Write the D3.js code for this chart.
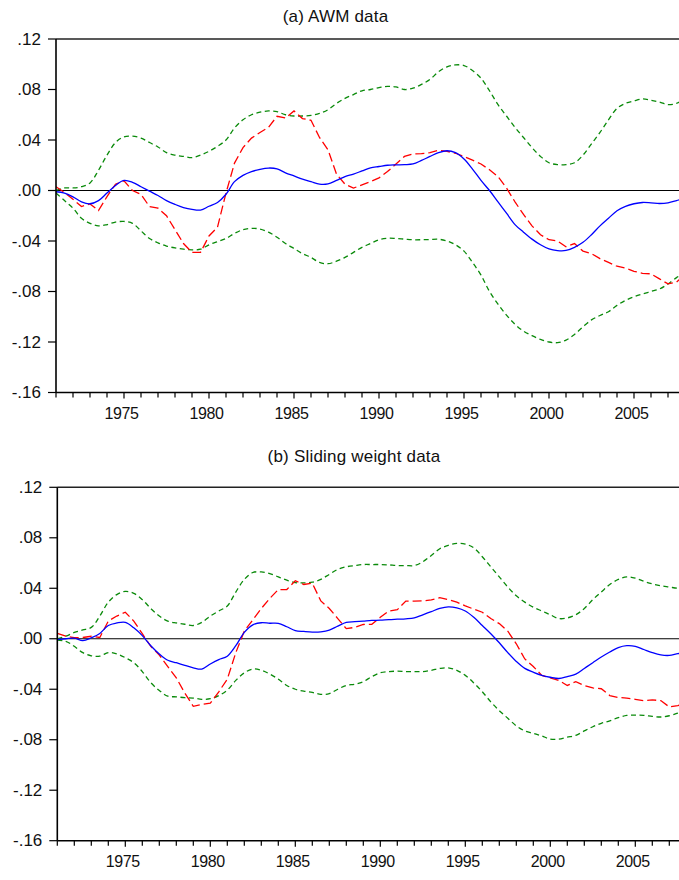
<!DOCTYPE html>
<html>
<head>
<meta charset="utf-8">
<script src="https://cdn.jsdelivr.net/npm/d3@7"></script>
<style>
    html, body { margin: 0; padding: 0; background: #fff; }
    svg { display: block; }
    text { font-family: Arial, "Liberation Sans", sans-serif; fill: #111; }
</style>
</head>
<body>
<script>
(function () {
    "use strict";

    // semi-annual observation dates, last one is 2007Q4
    var dates = d3.range(1971, 2007.6, 0.5).concat([2007.75]);

    var yearTicks = d3.range(1971, 2008);
    var yearLabels = [1975, 1980, 1985, 1990, 1995, 2000, 2005];
    var yTicks = [0.12, 0.08, 0.04, 0, -0.04, -0.08, -0.12, -0.16];
    var yTickLabels = [".12", ".08", ".04", ".00", "-.04", "-.08", "-.12", "-.16"];

    // (a) AWM data
    var awmUpper = [
        0.000, 0.002, 0.002, 0.003, 0.006, 0.016, 0.028, 0.038, 0.0425, 0.043,
        0.0415, 0.038, 0.0345, 0.030, 0.028, 0.027, 0.026, 0.028, 0.031, 0.035,
        0.040, 0.0495, 0.056, 0.060, 0.062, 0.063, 0.0625, 0.060, 0.059, 0.059,
        0.0595, 0.061, 0.064, 0.069, 0.073, 0.076, 0.079, 0.080, 0.0815, 0.0825,
        0.082, 0.080, 0.081, 0.084, 0.088, 0.094, 0.098, 0.0995, 0.099, 0.095,
        0.089, 0.079, 0.068, 0.059, 0.050, 0.042, 0.034, 0.027, 0.022, 0.0205,
        0.0205, 0.022, 0.028, 0.037, 0.046, 0.056, 0.065, 0.069, 0.071, 0.0725,
        0.0715, 0.070, 0.068, 0.069, 0.0707
    ];
    var awmLower = [
        -0.002, -0.008, -0.014, -0.022, -0.026, -0.028, -0.027, -0.025, -0.0245, -0.026,
        -0.032, -0.038, -0.0415, -0.044, -0.0455, -0.0465, -0.047, -0.0465, -0.043, -0.0405,
        -0.038, -0.034, -0.031, -0.030, -0.0305, -0.033, -0.037, -0.042, -0.046, -0.050,
        -0.053, -0.057, -0.058, -0.056, -0.053, -0.049, -0.045, -0.042, -0.039, -0.0378,
        -0.038, -0.0385, -0.039, -0.039, -0.0388, -0.0386, -0.040, -0.043, -0.048, -0.057,
        -0.067, -0.080, -0.090, -0.0987, -0.106, -0.1114, -0.115, -0.118, -0.120, -0.1205,
        -0.1185, -0.114, -0.108, -0.1025, -0.099, -0.096, -0.091, -0.087, -0.0842, -0.082,
        -0.080, -0.078, -0.074, -0.069, -0.067
    ];
    var awmMedian = [
        -0.001, -0.002, -0.005, -0.009, -0.0105, -0.008, -0.002, 0.004, 0.008, 0.0065,
        0.003, -0.0005, -0.004, -0.008, -0.011, -0.0135, -0.015, -0.0155, -0.0125, -0.0095,
        -0.003, 0.007, 0.012, 0.015, 0.0168, 0.0178, 0.0172, 0.014, 0.0115, 0.009,
        0.007, 0.005, 0.0052, 0.008, 0.011, 0.013, 0.0155, 0.018, 0.019, 0.020,
        0.0203, 0.0205, 0.021, 0.0238, 0.027, 0.030, 0.0315, 0.030, 0.025, 0.017,
        0.008, 0.000, -0.009, -0.018, -0.027, -0.033, -0.0385, -0.043, -0.0463, -0.0476,
        -0.0475, -0.045, -0.041, -0.035, -0.028, -0.022, -0.016, -0.0125, -0.0105, -0.0095,
        -0.0098, -0.0103, -0.0098, -0.008, -0.007
    ];
    var awmActual = [
        0.003, -0.0016, -0.007, -0.0127, -0.0106, -0.0159, -0.0048, 0.005, 0.0077, 0.000,
        -0.003, -0.0128, -0.014, -0.020, -0.031, -0.042, -0.049, -0.049, -0.036, -0.029,
        -0.002, 0.0217, 0.034, 0.0415, 0.046, 0.050, 0.0588, 0.0574, 0.063, 0.057,
        0.0556, 0.042, 0.0323, 0.013, 0.005, 0.0019, 0.0045, 0.0071, 0.010, 0.015,
        0.021, 0.027, 0.029, 0.0292, 0.030, 0.0318, 0.031, 0.0295, 0.027, 0.024,
        0.021, 0.0164, 0.011, 0.002, -0.009, -0.019, -0.028, -0.035, -0.039, -0.040,
        -0.0445, -0.042, -0.048, -0.050, -0.054, -0.057, -0.060, -0.0615, -0.064, -0.0656,
        -0.066, -0.070, -0.074, -0.0725, -0.0696
    ];

    // (b) Sliding weight data
    var swUpper = [
        0.000, 0.002, 0.005, 0.007, 0.009, 0.018, 0.029, 0.035, 0.0375, 0.036,
        0.031, 0.024, 0.018, 0.014, 0.0125, 0.0115, 0.0105, 0.013, 0.018, 0.022,
        0.026, 0.037, 0.047, 0.0525, 0.053, 0.0517, 0.049, 0.0464, 0.0445, 0.0443,
        0.0448, 0.047, 0.051, 0.055, 0.057, 0.058, 0.0588, 0.0588, 0.0588, 0.0585,
        0.058, 0.058, 0.058, 0.061, 0.066, 0.0713, 0.074, 0.0755, 0.075, 0.072,
        0.065, 0.057, 0.049, 0.041, 0.034, 0.029, 0.025, 0.022, 0.019, 0.016,
        0.0165, 0.019, 0.024, 0.031, 0.037, 0.043, 0.047, 0.049, 0.048, 0.0455,
        0.0435, 0.042, 0.041, 0.040, 0.040
    ];
    var swLower = [
        -0.001, -0.002, -0.006, -0.011, -0.0135, -0.0138, -0.011, -0.012, -0.015, -0.019,
        -0.026, -0.0348, -0.041, -0.0455, -0.046, -0.0467, -0.047, -0.048, -0.0475, -0.045,
        -0.0407, -0.033, -0.027, -0.024, -0.025, -0.028, -0.032, -0.037, -0.040, -0.0415,
        -0.0425, -0.044, -0.0435, -0.040, -0.037, -0.036, -0.034, -0.030, -0.027, -0.026,
        -0.0257, -0.026, -0.026, -0.026, -0.025, -0.0235, -0.023, -0.025, -0.029, -0.035,
        -0.042, -0.050, -0.057, -0.063, -0.069, -0.073, -0.075, -0.077, -0.0795, -0.0795,
        -0.078, -0.0765, -0.073, -0.0697, -0.067, -0.065, -0.0625, -0.0607, -0.0605, -0.0607,
        -0.0615, -0.062, -0.061, -0.059, -0.058
    ];
    var swMedian = [
        -0.0006, 0.000, 0.0005, -0.0015, 0.0008, 0.0042, 0.0105, 0.0125, 0.013, 0.0087,
        0.0025, -0.0055, -0.012, -0.017, -0.019, -0.021, -0.023, -0.024, -0.020, -0.0165,
        -0.0138, -0.0055, 0.005, 0.011, 0.0127, 0.0123, 0.0122, 0.0095, 0.0065, 0.0058,
        0.0053, 0.0055, 0.0068, 0.010, 0.013, 0.0135, 0.014, 0.0145, 0.0147, 0.0152,
        0.0155, 0.0158, 0.0165, 0.019, 0.0215, 0.024, 0.0253, 0.0245, 0.022, 0.017,
        0.0105, 0.004, -0.0032, -0.011, -0.018, -0.0235, -0.0265, -0.029, -0.0305, -0.0315,
        -0.030, -0.028, -0.0235, -0.019, -0.0145, -0.0105, -0.007, -0.0055, -0.006, -0.0085,
        -0.011, -0.0128, -0.0132, -0.0118, -0.0115
    ];
    var swActual = [
        0.0042, 0.002, 0.0008, 0.001, 0.002, 0.001, 0.014, 0.018, 0.021, 0.014,
        0.004, -0.006, -0.013, -0.022, -0.031, -0.043, -0.0535, -0.052, -0.051, -0.042,
        -0.032, -0.011, 0.006, 0.015, 0.024, 0.032, 0.039, 0.039, 0.046, 0.043,
        0.044, 0.030, 0.024, 0.016, 0.008, 0.009, 0.0113, 0.0115, 0.017, 0.022,
        0.023, 0.0298, 0.0298, 0.030, 0.0308, 0.0325, 0.031, 0.029, 0.026, 0.0235,
        0.021, 0.016, 0.012, 0.006, -0.004, -0.016, -0.022, -0.029, -0.031, -0.033,
        -0.037, -0.034, -0.037, -0.039, -0.0396, -0.045, -0.0465, -0.047, -0.048, -0.049,
        -0.0485, -0.049, -0.054, -0.053, -0.052
    ];

    var width = 679, height = 880;
    var pxPerYear = 17;

    var panels = [
        {id: "a", title: "(a) AWM data", titleX: 335.5, titleY: 22,
            left: 56, top: 39, bottom: 392.5,
            upper: awmUpper, lower: awmLower, median: awmMedian, actual: awmActual},
        {id: "b", title: "(b) Sliding weight data", titleX: 354, titleY: 461.5,
            left: 57.3, top: 487.3, bottom: 840.7,
            upper: swUpper, lower: swLower, median: swMedian, actual: swActual}
    ];

    var svg = d3.select("body")
            .append("svg")
            .attr("width", width)
            .attr("height", height);

    var defs = svg.append("defs");

    panels.forEach(function (p) {
        var right = p.left + (dates[dates.length - 1] - dates[0]) * pxPerYear;

        var x = d3.scaleLinear()
                .domain([dates[0], dates[dates.length - 1]])
                .range([p.left, right]);
        var y = d3.scaleLinear()
                .domain([-0.16, 0.12])
                .range([p.bottom, p.top]);

        defs.append("clipPath")
                .attr("id", "clip-" + p.id)
                .append("rect")
                .attr("x", p.left)
                .attr("y", p.top)
                .attr("width", right - p.left)
                .attr("height", p.bottom - p.top);

        var g = svg.append("g");

        // title
        g.append("text")
                .attr("x", p.titleX)
                .attr("y", p.titleY)
                .attr("text-anchor", "middle")
                .style("font-size", "17px")
                .style("letter-spacing", "0.2px")
                .text(p.title);

        // zero line
        g.append("line")
                .attr("x1", p.left).attr("x2", right)
                .attr("y1", y(0)).attr("y2", y(0))
                .attr("stroke", "#000")
                .attr("stroke-width", 1.2);

        var plotArea = g.append("g")
                .attr("clip-path", "url(#clip-" + p.id + ")");

        var smooth = d3.line()
                .x(function (d, i) { return x(dates[i]); })
                .y(function (d) { return y(d); })
                .curve(d3.curveCatmullRom.alpha(0.5));
        var rough = d3.line()
                .x(function (d, i) { return x(dates[i]); })
                .y(function (d) { return y(d); });

        [p.upper, p.lower].forEach(function (band) {
            plotArea.append("path")
                    .datum(band)
                    .attr("d", smooth)
                    .attr("fill", "none")
                    .attr("stroke", "#0a8a0a")
                    .attr("stroke-width", 1.3)
                    .attr("stroke-dasharray", "5,3.5");
        });

        plotArea.append("path")
                .datum(p.actual)
                .attr("d", rough)
                .attr("fill", "none")
                .attr("stroke", "#ff0000")
                .attr("stroke-width", 1.3)
                .attr("stroke-dasharray", "9,4");

        plotArea.append("path")
                .datum(p.median)
                .attr("d", smooth)
                .attr("fill", "none")
                .attr("stroke", "#0000ff")
                .attr("stroke-width", 1.3);

        // frame: top, left, bottom
        g.append("line")
                .attr("x1", p.left).attr("x2", right)
                .attr("y1", p.top).attr("y2", p.top)
                .attr("stroke", "#222").attr("stroke-width", 1.6);
        g.append("line")
                .attr("x1", p.left).attr("x2", p.left)
                .attr("y1", p.top).attr("y2", p.bottom)
                .attr("stroke", "#000").attr("stroke-width", 1.6);
        g.append("line")
                .attr("x1", p.left).attr("x2", right)
                .attr("y1", p.bottom).attr("y2", p.bottom)
                .attr("stroke", "#000").attr("stroke-width", 1.6);

        // y ticks and labels
        g.selectAll(".ytick")
                .data(yTicks)
                .enter()
                .append("line")
                .attr("x1", p.left - 8).attr("x2", p.left)
                .attr("y1", function (d) { return y(d); })
                .attr("y2", function (d) { return y(d); })
                .attr("stroke", "#000").attr("stroke-width", 1.2);
        g.selectAll(".ylabel")
                .data(yTicks)
                .enter()
                .append("text")
                .attr("x", p.left - 15)
                .attr("y", function (d) { return y(d) + 5.5; })
                .attr("text-anchor", "end")
                .style("font-size", "17px")
                .text(function (d, i) { return yTickLabels[i]; });

        // x ticks every year, labels every five
        g.selectAll(".xtick")
                .data(yearTicks)
                .enter()
                .append("line")
                .attr("x1", function (d) { return x(d); })
                .attr("x2", function (d) { return x(d); })
                .attr("y1", p.bottom)
                .attr("y2", function (d) { return p.bottom + (d % 5 === 0 ? 6 : 5); })
                .attr("stroke", "#000").attr("stroke-width", 1.2);
        g.selectAll(".xlabel")
                .data(yearLabels)
                .enter()
                .append("text")
                .attr("x", function (d) { return x(d) - 2.5; })
                .attr("y", p.bottom + 26)
                .attr("text-anchor", "middle")
                .style("font-size", "16px")
                .style("letter-spacing", "-0.4px")
                .text(function (d) { return d; });
    });

})();
</script>
</body>
</html>
